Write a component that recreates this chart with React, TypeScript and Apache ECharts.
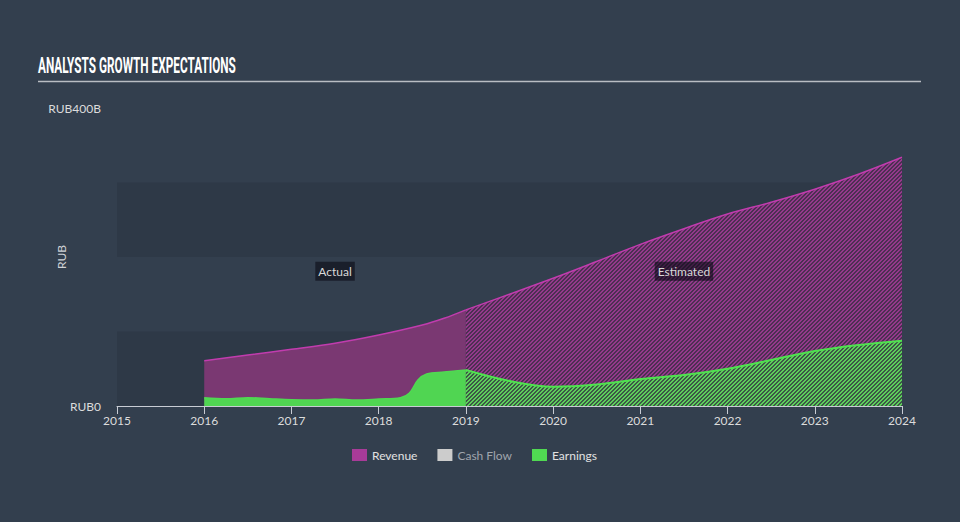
import React, { useEffect, useRef } from 'react';
import * as echarts from 'echarts';

// ---- data (RUB billions, x = fractional year) ----
const revenueActualYears = [2016, 2016.5, 2017, 2017.5, 2018, 2018.5, 2018.75, 2019];
const revenueActual = [60.8, 68.5, 76.1, 84.2, 95.3, 108.7, 117.7, 129];

const revenueEstYears = [2019, 2019.5, 2020, 2020.5, 2021, 2021.5, 2022, 2022.5, 2023, 2023.5, 2024];
const revenueEst = [129, 150, 171.4, 194, 217, 238, 257.7, 273.5, 291, 311, 333.8];

const earningsActualYears = [2016, 2016.25, 2016.5, 2016.75, 2017, 2017.25, 2017.5, 2017.75, 2018, 2018.25, 2018.35, 2018.45, 2018.55, 2018.75, 2019];
const earningsActual = [11.2, 9.8, 11.2, 9.8, 8.5, 8, 9.4, 8, 9.4, 11.2, 17, 34.9, 43, 45.6, 48.3];

const earningsEstYears = [2019, 2019.5, 2020, 2020.5, 2021, 2021.5, 2022, 2022.5, 2023, 2023.5, 2024];
const earningsEst = [48.3, 33.6, 26, 29, 36.2, 41.6, 50, 61.7, 73.8, 81.9, 87.7];

const legendNames = ['Revenue', 'Cash Flow', 'Earnings'];
const periodLabels = ['Actual', 'Estimated'];
const periodLabelPos = [[2017.5, 181], [2021.5, 181]];

const TITLE = 'ANALYSTS GROWTH EXPECTATIONS';
const FONT = 'Lato, "Open Sans", sans-serif';

function pairs(xs: number[], ys: number[]) {
  return xs.map((x, i) => [x, ys[i]]);
}

function makeHatch(stripe: string, gap: string): HTMLCanvasElement {
  const c = document.createElement('canvas');
  c.width = 4;
  c.height = 4;
  const ctx = c.getContext('2d')!;
  ctx.fillStyle = gap;
  ctx.fillRect(0, 0, 4, 4);
  ctx.fillStyle = stripe;
  for (let x = 0; x < 4; x++) {
    for (let y = 0; y < 4; y++) {
      if ((x + y) % 4 < 2) ctx.fillRect(x, y, 1, 1);
    }
  }
  return c;
}

export default function App() {
  const ref = useRef<HTMLDivElement>(null);

  useEffect(() => {
    document.body.style.margin = '0';
    if (!ref.current) return;
    const chart = echarts.init(ref.current, undefined, { renderer: 'svg' });

    const mc = document.createElement('canvas').getContext('2d')!;
    mc.font = 'bold 22px Roboto';
    const tw = mc.measureText(TITLE).width || 380;
    const titleScale = 198 / tw;

    const revHatch = {
      image: makeHatch('#94398b', '#4c2f52'),
      repeat: 'repeat',
      imageWidth: 4,
      imageHeight: 4,
    } as any;
    const earnHatch = {
      image: makeHatch('#5dcf5b', '#3c5846'),
      repeat: 'repeat',
      imageWidth: 4,
      imageHeight: 4,
    } as any;

    const markLabel = (name: string, coord: number[]) => ({
      symbol: 'rect',
      symbolSize: 1,
      itemStyle: { color: 'rgba(0,0,0,0)' },
      label: {
        show: true,
        position: 'inside',
        formatter: '{b}',
        color: '#d8d8d8',
        fontFamily: FONT,
        fontSize: 12,
        backgroundColor: 'rgba(12,12,22,0.62)',
        padding: [4, 3, 3, 3],
      },
      data: [{ name, coord }],
      silent: true,
    });

    const smooth = 0.35;

    chart.setOption({
      animation: false,
      backgroundColor: '#333f4e',
      textStyle: { fontFamily: FONT },
      grid: { left: 117, right: 58, top: 108, bottom: 116 },
      graphic: [
        {
          type: 'text',
          x: 38,
          y: 55,
          scaleX: titleScale,
          style: {
            text: TITLE,
            fill: '#ffffff',
            font: 'bold 22px Roboto',
            textVerticalAlign: 'top',
          },
        },
        {
          type: 'line',
          shape: { x1: 38, y1: 81.5, x2: 921, y2: 81.5 },
          style: { stroke: '#b9bdc3', lineWidth: 1.5 },
        },
      ],
      legend: {
        left: 352,
        top: 449,
        padding: 0,
        icon: 'rect',
        itemWidth: 15,
        itemHeight: 12,
        itemGap: 20,
        textStyle: { color: '#e2e2e2', fontSize: 12, fontFamily: FONT },
        data: [
          { name: legendNames[0], itemStyle: { color: '#a83b98' } },
          { name: legendNames[1], itemStyle: { color: '#cccccc' }, textStyle: { color: '#a0a5ad' } },
          { name: legendNames[2], itemStyle: { color: '#50d952' } },
        ],
      },
      xAxis: {
        type: 'value',
        min: 2015,
        max: 2024,
        interval: 1,
        axisLine: { show: true, lineStyle: { color: '#c8ccd4', width: 1 } },
        axisTick: { show: true, length: 8, lineStyle: { color: '#c8ccd4' } },
        axisLabel: { color: '#dcdcdc', fontSize: 12, margin: 8, formatter: (v: number) => String(Math.round(v)) },
        splitLine: { show: false },
      },
      yAxis: {
        type: 'value',
        min: 0,
        max: 400,
        interval: 100,
        name: 'RUB',
        nameLocation: 'middle',
        nameRotate: 90,
        nameGap: 50,
        nameMoveOverlap: false,
        nameTextStyle: { color: '#cfd2d6', fontSize: 12 },
        axisLine: { show: false },
        axisTick: { show: false },
        splitLine: { show: false },
        splitArea: { show: true, areaStyle: { color: ['#2e3947', 'rgba(0,0,0,0)'] } },
        axisLabel: {
          color: '#dcdcdc',
          fontSize: 12,
          margin: 16,
          formatter: (v: number) => (v === 0 ? 'RUB0' : v === 400 ? 'RUB400B' : ''),
        },
      },
      series: [
        {
          name: 'Revenue',
          type: 'line',
          data: pairs(revenueActualYears, revenueActual),
          smooth,
          showSymbol: false,
          lineStyle: { color: '#c13cae', width: 1.5 },
          itemStyle: { color: '#a83b98' },
          areaStyle: { color: '#7a3872', opacity: 1 },
          markPoint: markLabel(periodLabels[0], periodLabelPos[0]),
          z: 2,
        },
        {
          name: 'Revenue',
          type: 'line',
          data: pairs(revenueEstYears, revenueEst),
          smooth,
          showSymbol: false,
          lineStyle: { color: '#c13cae', width: 1.5 },
          itemStyle: { color: '#a83b98' },
          areaStyle: { color: revHatch, opacity: 1 },
          markPoint: markLabel(periodLabels[1], periodLabelPos[1]),
          z: 2,
        },
        {
          name: 'Cash Flow',
          type: 'line',
          data: [],
          itemStyle: { color: '#cccccc' },
        },
        {
          name: 'Earnings',
          type: 'line',
          data: pairs(earningsActualYears, earningsActual),
          smooth,
          showSymbol: false,
          lineStyle: { color: '#50d952', width: 1.5 },
          itemStyle: { color: '#50d952' },
          areaStyle: { color: '#50d552', opacity: 1 },
          z: 3,
        },
        {
          name: 'Earnings',
          type: 'line',
          data: pairs(earningsEstYears, earningsEst),
          smooth,
          showSymbol: false,
          lineStyle: { color: '#4fe34f', width: 2 },
          itemStyle: { color: '#50d952' },
          areaStyle: { color: earnHatch, opacity: 1 },
          z: 3,
        },
      ],
    });

    return () => chart.dispose();
  }, []);

  return (
    <div
      ref={ref}
      style={{ position: 'absolute', left: 0, top: 0, width: 960, height: 522, background: '#333f4e' }}
    />
  );
}
